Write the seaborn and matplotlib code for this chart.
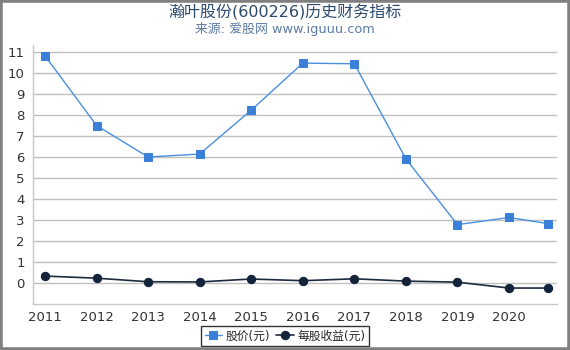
import matplotlib
matplotlib.use("Agg")
import matplotlib.pyplot as plt
import seaborn as sns
import pandas as pd
from matplotlib.patches import Rectangle

years = [2011, 2012, 2013, 2014, 2015, 2016, 2017, 2018, 2019, 2020, 2020.75]
price = [10.82, 7.50, 6.00, 6.14, 8.23, 10.47, 10.44, 5.91, 2.78, 3.12, 2.83]
eps = [0.33, 0.23, 0.06, 0.05, 0.19, 0.11, 0.20, 0.09, 0.04, -0.24, -0.24]
xticks = [2011, 2012, 2013, 2014, 2015, 2016, 2017, 2018, 2019, 2020]
yticks = list(range(0, 12))

sns.set_style("white")
plt.rcParams['font.family'] = ['DejaVu Sans', 'Noto Sans CJK SC']

df = pd.DataFrame({"year": years, "price": price, "eps": eps})

fig = plt.figure(figsize=(5.7, 3.5), dpi=100)
ax = fig.add_axes([33/570, 1-304/350, (557-33)/570, (304-45)/350])

sns.lineplot(data=df, x="year", y="price", ax=ax, color="#4a8fe0", lw=1.0,
             marker="s", markersize=6, markeredgecolor="#3a7fd8", markerfacecolor="#3a7fd8",
             label="股价(元)")
sns.lineplot(data=df, x="year", y="eps", ax=ax, color="#1c2b40", lw=1.2,
             marker="o", markersize=6, markeredgecolor="#13233a", markerfacecolor="#13233a",
             label="每股收益(元)")

px = 51.56
ax.set_xlim(2011 - 12/px, 2020 + 48/px)
ax.set_ylim(-1.0, 11 + 7/21)
ax.set_xticks(xticks)
ax.set_xticklabels([str(y) for y in xticks])
ax.set_yticks(yticks)
ax.set_xlabel("")
ax.set_ylabel("")
ax.grid(axis="y", color="#c0c0c0", lw=1.0)
ax.set_axisbelow(True)
for s in ["top", "right"]:
    ax.spines[s].set_visible(False)
for s in ["left", "bottom"]:
    ax.spines[s].set_color("#c8c8c8")
    ax.spines[s].set_linewidth(1.0)
ax.tick_params(axis="x", length=4, color="#c8c8c8", labelsize=9.5, labelcolor="#333333", pad=1)
ax.tick_params(axis="y", length=0, labelsize=9.5, labelcolor="#333333", pad=6)

ax.legend_.remove()
handles, labels = ax.get_legend_handles_labels()
leg = fig.legend(handles, labels, loc="center", bbox_to_anchor=(285/570, 1-336/350),
                 ncol=2, frameon=True, fontsize=8.5, handlelength=1.5, handletextpad=0.3,
                 columnspacing=0.5, borderpad=0.3, fancybox=False)
leg.get_frame().set_edgecolor("#000000")
leg.get_frame().set_linewidth(1.0)

fig.text(0.5, 1-12/350, "瀚叶股份(600226)历史财务指标", ha="center", va="center",
         fontsize=11.5, color="#2b4a6e")
fig.text(0.5, 1-29/350, "来源: 爱股网 www.iguuu.com", ha="center", va="center",
         fontsize=9.3, color="#5b7ba3")

fig.patches.append(Rectangle((0, 0), 1, 1, transform=fig.transFigure, fill=False,
                             edgecolor="#808080", lw=4, zorder=10))

fig.savefig("out.png", dpi=100)
